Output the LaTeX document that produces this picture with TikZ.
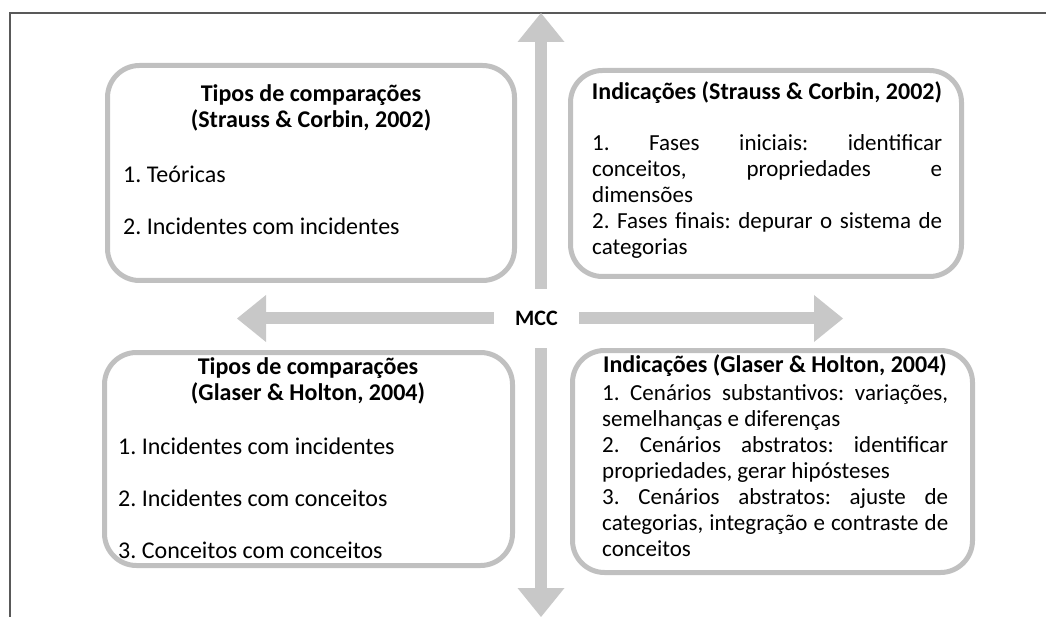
\documentclass[tikz,border=0pt]{standalone}
\usepackage{fontspec}
\setmainfont{Carlito}
\usetikzlibrary{arrows.meta}
\definecolor{cFrame}{HTML}{595959}
\definecolor{cBorder}{HTML}{C0C0C0}
\definecolor{cArrow}{HTML}{C8C8C8}
\hyphenpenalty=10000
\frenchspacing
\tikzset{
  panel/.style={draw=cBorder, line width=5pt, rounded corners=32pt, inner sep=0pt},
  ttl/.style={font=\fontsize{24}{26}\selectfont\bfseries, align=center, inner sep=0pt},
  itm/.style={font=\fontsize{24}{26}\selectfont, anchor=west, inner sep=0pt},
  body/.style={font=\fontsize{23}{26}\selectfont, anchor=north west, align=justify, inner sep=0pt},
  bigar/.style={cArrow, line width=12pt, -{Triangle[width=47pt,length=29pt,line width=0pt]}},
  frm/.style={cFrame, line width=2.5pt}
}

\begin{document}
\begin{tikzpicture}[x=1pt, y=-1pt]
\useasboundingbox (0,0) rectangle (1046,617);
\draw[frm] (10,617) -- (10,13) -- (1046,13);
% the four panels
\node[panel, minimum width=407pt, minimum height=215pt] (tl) at (311,173) {};
\node[panel, minimum width=391pt, minimum height=206pt] (tr) at (766,173.5) {};
\node[panel, minimum width=408pt, minimum height=213pt] (bl) at (308.5,459) {};
\node[panel, minimum width=400pt, minimum height=222pt] (br) at (772.5,461.5) {};
% centre and arrows
\node[font=\fontsize{22}{24}\selectfont\bfseries, minimum width=85pt, minimum height=59pt, inner sep=0pt] (mcc) at (536.5,318.5) {MCC};
\coordinate (upEnd) at (541,13);
\coordinate (downEnd) at (541,617);
\coordinate (leftEnd) at (237,318.5);
\coordinate (rightEnd) at (843,318.5);
\draw[bigar] (mcc.north -| upEnd) -- (upEnd);
\draw[bigar] (mcc.south -| downEnd) -- (downEnd);
\draw[bigar] (mcc.west) -- (leftEnd);
\draw[bigar] (mcc.east) -- (rightEnd);
% texts
\node[ttl] (tlT) at (311,108) {Tipos de comparações\\(Strauss \& Corbin, 2002)};
\node[itm] (tl1) at (123,174) {1. Teóricas};
\node[itm] (tl2) at (123,226) {2. Incidentes com incidentes};
\node[ttl] (trT) at (767,93) {Indicações (Strauss \& Corbin, 2002)};
\node[body, text width=350pt] (trB) at (592,134) {1. Fases iniciais: identificar\linebreak conceitos, propriedades e\linebreak dimensões\\2. Fases finais: depurar o sistema de\linebreak categorias};
\node[ttl] (blT) at (308,381) {Tipos de comparações\\(Glaser \& Holton, 2004)};
\node[itm] (bl1) at (118,446) {1. Incidentes com incidentes};
\node[itm] (bl2) at (118,498) {2. Incidentes com conceitos};
\node[itm] (bl3) at (118,550) {3. Conceitos com conceitos};
\node[ttl] (brT) at (775,366) {Indicações (Glaser \& Holton, 2004)};
\node[body, text width=346pt] (brB) at (602,384) {1. Cenários substantivos: variações,\linebreak semelhanças e diferenças\\2. Cenários abstratos: identificar\linebreak propriedades, gerar hipósteses\\3. Cenários abstratos: ajuste de\linebreak categorias, integração e contraste de\linebreak conceitos};
\end{tikzpicture}
\end{document}
